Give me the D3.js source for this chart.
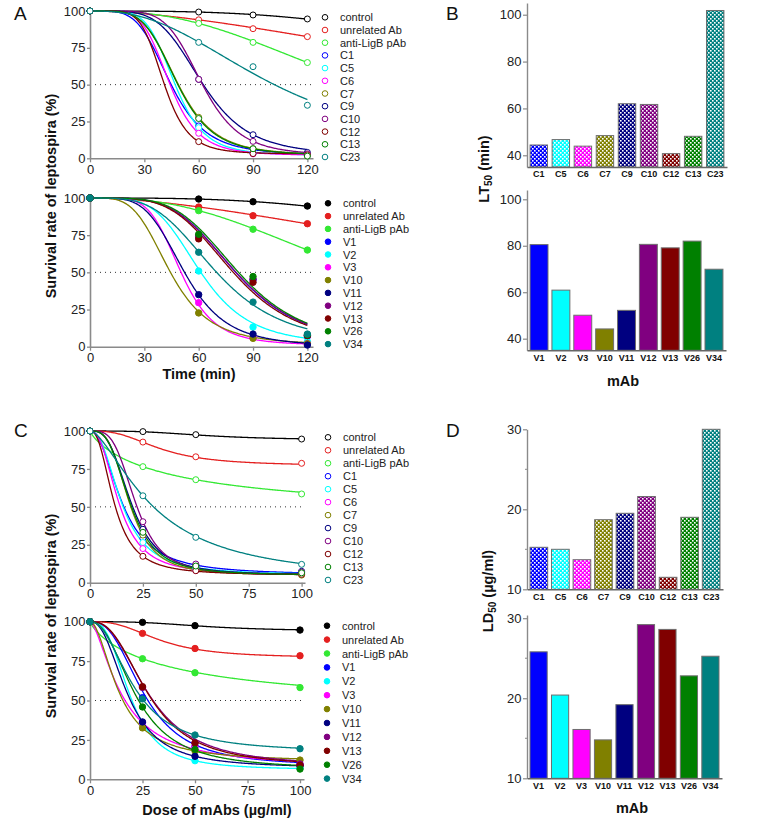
<!DOCTYPE html>
<html><head><meta charset="utf-8">
<script src="https://cdn.jsdelivr.net/npm/d3@7"></script>
<style>
body{margin:0;background:#fff;}
text{font-family:Arial,"Liberation Sans",sans-serif;}
</style></head>
<body>
<svg id="fig" width="768" height="827"></svg>
<script>
// ---------------- DATA ----------------
const namesC = ["control","unrelated Ab","anti-LigB pAb","C1","C5","C6","C7","C9","C10","C12","C13","C23"];
const namesV = ["control","unrelated Ab","anti-LigB pAb","V1","V2","V3","V10","V11","V12","V13","V26","V34"];
const seriesColors = ["#000000","#e41f1f","#33e833","#0000ff","#00ffff","#ff00ff","#808000","#000080","#800080","#800000","#008000","#008080"];

const timeX = [0,60,90,120];
const doseX = [0,25,50,100];
const timeTicks = [0,30,60,90,120];
const doseTicks = [0,25,50,75,100];
const survTicks = [0,25,50,75,100];

// survival (%) observed, panel A top (C mAbs) at timeX
const survTimeC = [
 [100,99.3,97.3,94.6],[100,94,88,82.6],[100,91.6,78.7,65],
 [100,22,3.4,2.3],[100,20.8,3.5,2],[100,17,3,2],[100,27.8,6.5,2],
 [100,53.6,16,4],[100,53.6,11.5,3],[100,11.3,3.2,2.3],[100,27,6.5,1.5],[100,78.7,62.2,36]
];
// panel A bottom (V mAbs)
const survTimeV = [
 [100,99.3,97.5,94.6],[100,93.9,88.1,82.7],[100,91.5,79,65],
 [100,74,45,7],[100,50.9,13.2,3.4],[100,29.6,6.3,2],[100,22.7,5.6,2],
 [100,35,8.5,1.1],[100,74.5,45.5,7.5],[100,72.5,43.3,7.5],[100,75.6,47.2,8],[100,63.5,30,8.5]
];
// panel C top (C mAbs) at doseX
const survDoseC = [
 [100,99.6,97.6,94.7],[100,92.7,83,78.7],[100,76.5,67.9,58.5],
 [100,29.2,10.5,7],[100,26.5,9,6.5],[100,22.5,8,6],[100,31.4,11,5],
 [100,35.2,12,7.5],[100,40.2,12.3,7],[100,17.4,7.9,5.5],[100,33.2,11,6.5],[100,57.3,29.9,12.1]
];
// panel C bottom (V mAbs)
const survDoseV = [
 [100,99.6,97.5,94.7],[100,92.6,83,78.4],[100,76.5,67.6,58.2],
 [100,51.8,21,9],[100,36,11.8,7],[100,36,20.7,9.5],[100,32.6,18,12.2],
 [100,36.4,14.6,8.5],[100,58.3,23.2,9.7],[100,58.8,23,8.9],[100,45.9,19,6.5],[100,51,28.1,19.4]
];

// fitted sigmoid parameters [x50, hill slope, bottom] (top = 100)
const fitTimeC = [[309,3.0,0],[297,1.72,0],[153,2.55,0],[44.4,4.5,2],[46.7,5.7,2],[43.9,5.5,2],[48.4,4.8,2],[62,4.8,2],[61.7,5.9,2],[40.7,6.1,3],[48.1,4.86,2],[101.8,2.5,0]];
const fitTimeV = [[309,3.0,0],[297,1.72,0],[153,2.55,0],[80.5,4.35,0],[60.9,4.45,1],[50.1,5.4,1],[44.2,4.0,1],[52.2,4.5,0],[80.6,4.3,0],[79.1,4.3,0],[82,4.4,0],[69.9,3.7,0]];
const fitDoseC = [[55,3,94],[33,2.7,77],[42.3,0.84,40],[15.25,2.18,5],[15,2.4,5],[13.7,2.47,5],[18.7,3.3,5],[19.5,3.07,5],[21.6,3.6,5],[11.5,2.44,5],[19,3.14,5],[30,1.61,0]];
const fitDoseV = [[55,3,94],[33,2.7,77],[42.3,0.84,40],[25.8,2.6,8],[19.1,2.83,6],[15.2,1.6,7],[13.8,1.91,11],[18.1,2.38,7],[28,2.5,8],[27.8,2.6,8],[21.9,2.3,6],[21.1,2.17,17]];

// bar charts
const mAbC = ["C1","C5","C6","C7","C9","C10","C12","C13","C23"];
const mAbV = ["V1","V2","V3","V10","V11","V12","V13","V26","V34"];
const barColors = ["#0000ff","#00ffff","#ff00ff","#808000","#000080","#800080","#800000","#008000","#008080"];
const lt50C = [44.4,46.7,43.9,48.4,62.0,61.7,40.7,48.1,101.8];
const lt50V = [80.5,60.9,50.1,44.2,52.2,80.6,79.1,82.0,69.9];
const ld50C = [15.25,15.0,13.7,18.7,19.5,21.6,11.5,19.0,30.0];
const ld50V = [25.8,20.4,16.1,14.8,19.2,29.2,28.6,22.8,25.25];
const ltTicks = [40,60,80,100];
const ldTicks = [10,20,30];
const ldMinor = [15,25];

// ---------------- DRAW ----------------
const svg = d3.select("#fig");
svg.append("rect").attr("width",768).attr("height",827).attr("fill","#fff");
const defs = svg.append("defs");
barColors.forEach((c,i)=>{
  const p = defs.append("pattern").attr("id","pat"+i).attr("patternUnits","userSpaceOnUse")
    .attr("width",4).attr("height",4);
  p.append("rect").attr("width",4).attr("height",4).attr("fill",c);
  p.append("rect").attr("x",0).attr("y",0).attr("width",1.6).attr("height",1.6).attr("fill","#fff");
  p.append("rect").attr("x",2).attr("y",2).attr("width",1.6).attr("height",1.6).attr("fill","#fff");
});

const AX = "#8a8a8a";

function hill(x,p){ return p[2] + (100-p[2])/(1+Math.pow(x/p[0],p[1])); }

function linePanel(o){
  const g = svg.append("g");
  const x = d3.scaleLinear().domain([0,o.xEnd]).range([90,o.axisEnd]);
  const y = d3.scaleLinear().domain([0,100]).range([o.y0,o.y1]);
  g.append("line").attr("x1",x(0)).attr("x2",o.axisEnd).attr("y1",y(50)).attr("y2",y(50))
    .attr("stroke","#333").attr("stroke-width",1).attr("stroke-dasharray","1,4");
  const xa = g.append("g").attr("transform",`translate(0,${o.y0})`)
    .call(d3.axisBottom(x).tickValues(o.xTicks).tickSize(4).tickPadding(2).tickSizeOuter(0));
  const ya = g.append("g").attr("transform",`translate(90,0)`)
    .call(d3.axisLeft(y).tickValues(survTicks).tickSize(3).tickPadding(1.5).tickSizeOuter(0));
  [xa,ya].forEach(a=>{
    a.select(".domain").attr("stroke",AX).attr("stroke-width",1.6);
    a.selectAll(".tick line").attr("stroke",AX).attr("stroke-width",1.3);
    a.selectAll("text").attr("font-size",13).attr("fill","#222").attr("font-family","Arial, 'Liberation Sans', sans-serif");
  });
  const xs = d3.range(0,o.xMax+0.001,o.xMax/240);
  const line = d3.line().x(d=>x(d[0])).y(d=>y(d[1]));
  o.fits.forEach((p,i)=>{
    g.append("path").attr("d",line(xs.map(v=>[v,hill(v,p)]))).attr("fill","none")
      .attr("stroke",seriesColors[i]).attr("stroke-width",1.3);
  });
  o.vals.forEach((row,i)=>{
    row.forEach((v,j)=>{
      g.append("circle").attr("cx",x(o.xs[j])).attr("cy",y(v)).attr("r",o.filled?3.2:3)
        .attr("fill",o.filled?seriesColors[i]:"#fff").attr("stroke",seriesColors[i]).attr("stroke-width",1);
    });
  });
  o.names.forEach((n,i)=>{
    const ly = o.leg[2] + i*o.leg[3];
    g.append("circle").attr("cx",o.leg[0]).attr("cy",ly).attr("r",2.8)
      .attr("fill",o.filled?seriesColors[i]:"#fff").attr("stroke",seriesColors[i]).attr("stroke-width",1);
    g.append("text").attr("x",o.leg[1]).attr("y",ly+4).attr("font-size",11).attr("fill","#222").text(n);
  });
}

linePanel({xEnd:123.1,axisEnd:313,xMax:120,xTicks:timeTicks,y0:158.3,y1:11,xs:timeX,vals:survTimeC,fits:fitTimeC,names:namesC,filled:false,leg:[325,340,17.3,12.7]});
linePanel({xEnd:123.1,axisEnd:313,xMax:120,xTicks:timeTicks,y0:346.7,y1:198,xs:timeX,vals:survTimeV,fits:fitTimeV,names:namesV,filled:true,leg:[328,343,203.3,12.8]});
linePanel({xEnd:101.6,axisEnd:305,xMax:100,xTicks:doseTicks,y0:582.7,y1:431,xs:doseX,vals:survDoseC,fits:fitDoseC,names:namesC,filled:false,leg:[328,343,437.3,12.97]});
linePanel({xEnd:101.9,axisEnd:304,xMax:100,xTicks:doseTicks,y0:779.3,y1:621.7,xs:doseX,vals:survDoseV,fits:fitDoseV,names:namesV,filled:true,leg:[327,342,625.7,13.9]});

function barPanel(o){
  const g = svg.append("g");
  const x = d3.scaleBand().domain(o.names).range([527,o.xEnd]).paddingInner(o.pi).paddingOuter(o.po);
  const y = d3.scaleLinear().domain(o.dom).range([o.y0,o.y1]);
  o.vals.forEach((v,i)=>{
    g.append("rect").attr("x",x(o.names[i])).attr("width",x.bandwidth())
      .attr("y",y(v)).attr("height",o.y0-y(v))
      .attr("fill",o.pattern?`url(#pat${i})`:barColors[i]).attr("stroke","#6e6e6e").attr("stroke-width",1);
  });
  const ya = g.append("g").attr("transform","translate(527,0)")
    .call(d3.axisLeft(y).tickValues(o.ticks).tickSize(4).tickPadding(1.5).tickSizeOuter(0));
  ya.select(".domain").attr("stroke",AX).attr("stroke-width",1.4);
  ya.selectAll(".tick line").attr("stroke",AX).attr("stroke-width",1.2);
  ya.selectAll("text").attr("font-size",13).attr("fill","#222").attr("font-family","Arial, 'Liberation Sans', sans-serif");
  (o.minor||[]).forEach(t=>{
    g.append("line").attr("x1",525).attr("x2",527).attr("y1",y(t)).attr("y2",y(t)).attr("stroke",AX).attr("stroke-width",1);
  });
  const xa = g.append("g").attr("transform",`translate(0,${o.y0})`)
    .call(d3.axisBottom(x).tickSize(0).tickPadding(4).tickSizeOuter(0));
  xa.select(".domain").attr("stroke","#666").attr("stroke-width",1.5);
  xa.selectAll("text").attr("font-size",9).attr("font-weight","bold").attr("fill","#111").attr("font-family","Arial, 'Liberation Sans', sans-serif");
}

barPanel({names:mAbC,vals:lt50C,pattern:true,dom:[35,105],y0:167,y1:3,ticks:ltTicks,xEnd:727,pi:0.21,po:0.14});
barPanel({names:mAbV,vals:lt50V,pattern:false,dom:[35,104],y0:350.3,y1:190,ticks:ltTicks,xEnd:726,pi:0.18,po:0.14});
barPanel({names:mAbC,vals:ld50C,pattern:true,dom:[10,30],y0:589.3,y1:429.3,ticks:ldTicks,minor:ldMinor,xEnd:723,pi:0.18,po:0.14});
barPanel({names:mAbV,vals:ld50V,pattern:false,dom:[10,30.4],y0:778.3,y1:615,ticks:ldTicks,minor:ldMinor,xEnd:722,pi:0.2,po:0.14});

// ---------------- TEXT ----------------
const T = (x,y,s,opts={})=>{
  const t = svg.append("text").attr("x",x).attr("y",y).attr("font-size",opts.size||14.5)
    .attr("font-weight",opts.bold===false?"normal":"bold").attr("text-anchor",opts.anchor||"middle").attr("fill","#111");
  if(opts.rot) t.attr("transform",`rotate(-90,${x},${y})`);
  t.text(s); return t;
};
T(14,20,"A",{size:19,bold:false,anchor:"start"});
T(446,20,"B",{size:19,bold:false,anchor:"start"});
T(14,437,"C",{size:19,bold:false,anchor:"start"});
T(446,437,"D",{size:19,bold:false,anchor:"start"});

T(55.5,196,"Survival rate of leptospira (%)",{rot:true});
T(55.5,616,"Survival rate of leptospira (%)",{rot:true});
T(199,379,"Time (min)");
T(217,815,"Dose of mAbs (\u00b5g/ml)");
T(623,386,"mAb");
T(632,813,"mAb");

function subLabel(x,y,a,sub,b){
  const t = svg.append("text").attr("x",x).attr("y",y).attr("font-size",14.5).attr("font-weight","bold")
    .attr("text-anchor","middle").attr("fill","#111").attr("transform",`rotate(-90,${x},${y})`);
  t.append("tspan").text(a);
  t.append("tspan").attr("font-size",10).attr("dy",3).text(sub);
  t.append("tspan").attr("dy",-3).text(b);
}
subLabel(489,169,"LT","50"," (min)");
subLabel(493,591,"LD","50"," (\u00b5g/ml)");
</script>
</body></html>
